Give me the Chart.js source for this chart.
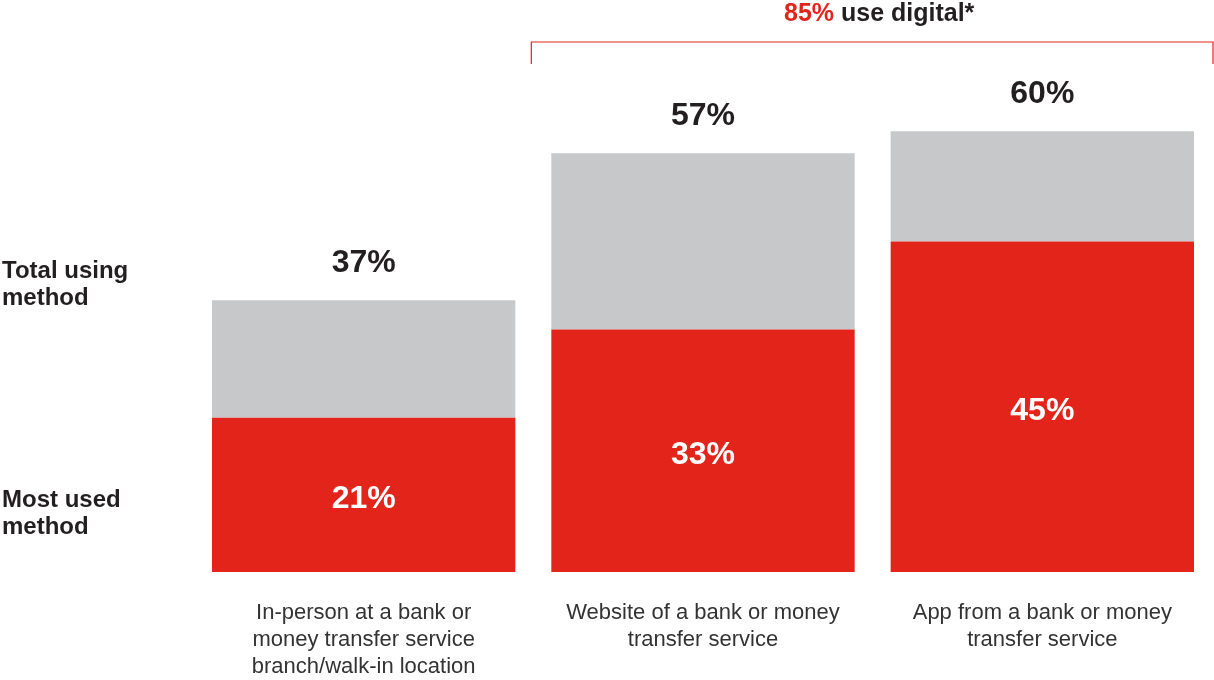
<!DOCTYPE html>
<html>
<head>
<meta charset="utf-8">
<script src="https://cdn.jsdelivr.net/npm/chart.js@4.4.1/dist/chart.umd.min.js"></script>
<style>
  html, body { margin: 0; padding: 0; background: #fff; }
  #wrap { width: 1214px; height: 680px; position: relative; }
</style>
</head>
<body>
<div id="wrap"><canvas id="methodChart"></canvas></div>
<script>
// Money transfer methods
const categories = [
    ['In-person at a bank or', 'money transfer service', 'branch/walk-in location'],
    ['Website of a bank or money', 'transfer service'],
    ['App from a bank or money', 'transfer service']
];
const mostUsed = [21, 33, 45];
const totalUsing = [37, 57, 60];
const digitalShare = 85;

const RED = '#e3241a';
const GREY = '#c7c8ca';
const FONT = '"Liberation Sans", Arial, Helvetica, sans-serif';

// grey segment is the remainder on top of the "most used" share
const remainder = totalUsing.map((t, i) => t - mostUsed[i]);

const labelsPlugin = {
    id: 'labelsPlugin',
    afterDatasetsDraw(chart) {
        const ctx = chart.ctx;
        const x = chart.scales.x;
        const y = chart.scales.y;
        const redBars = chart.getDatasetMeta(0).data;
        ctx.save();
        ctx.textAlign = 'center';
        ctx.textBaseline = 'middle';

        // values inside red segments
        ctx.font = 'bold 32px ' + FONT;
        ctx.fillStyle = '#fff';
        mostUsed.forEach((v, i) => {
            const cy = (y.getPixelForValue(0) + y.getPixelForValue(v)) / 2 + 4;
            ctx.fillText(v + '%', x.getPixelForValue(i), cy);
        });

        // totals above bars
        ctx.fillStyle = '#231f20';
        totalUsing.forEach((v, i) => {
            ctx.fillText(v + '%', x.getPixelForValue(i), y.getPixelForValue(v) - 37);
        });

        // category names under bars
        ctx.font = '22px ' + FONT;
        ctx.fillStyle = '#333';
        categories.forEach((lines, i) => {
            lines.forEach((line, j) => {
                ctx.fillText(line, x.getPixelForValue(i), y.getPixelForValue(0) + 41 + j * 27);
            });
        });

        // row captions on the left
        ctx.textAlign = 'left';
        ctx.font = 'bold 24px ' + FONT;
        ctx.fillStyle = '#231f20';
        ['Total using', 'method'].forEach((t, j) => ctx.fillText(t, 2, 271 + j * 27));
        ['Most used', 'method'].forEach((t, j) => ctx.fillText(t, 2, 500 + j * 27));

        // bracket over the two digital methods
        const bx1 = redBars[1].x - redBars[1].width / 2 - 20;
        const bx2 = redBars[2].x + redBars[2].width / 2 + 19;
        ctx.strokeStyle = RED;
        ctx.lineWidth = 1.2;
        ctx.beginPath();
        ctx.moveTo(bx1, 64);
        ctx.lineTo(bx1, 42);
        ctx.lineTo(bx2, 42);
        ctx.lineTo(bx2, 64);
        ctx.stroke();

        ctx.font = 'bold 25px ' + FONT;
        const part1 = digitalShare + '%';
        const part2 = ' use digital*';
        const w1 = ctx.measureText(part1).width;
        const w2 = ctx.measureText(part2).width;
        const tx = (bx1 + bx2) / 2 + 7 - (w1 + w2) / 2;
        ctx.fillStyle = RED;
        ctx.fillText(part1, tx, 14);
        ctx.fillStyle = '#231f20';
        ctx.fillText(part2, tx + w1, 14);
        ctx.restore();
    }
};

const ctx = document.getElementById('methodChart').getContext('2d');
const methodChart = new Chart(ctx, {
    type: 'bar',
    data: {
        labels: categories.map(c => c.join(' ')),
        datasets: [{
            label: 'Most used method',
            data: mostUsed,
            backgroundColor: RED
        }, {
            label: 'Total using method',
            data: remainder,
            backgroundColor: GREY
        }]
    },
    options: {
        responsive: true,
        maintainAspectRatio: false,
        animation: false,
        layout: { padding: { left: 194, right: 2, top: 21, bottom: 108 } },
        datasets: { bar: { categoryPercentage: 1, barPercentage: 0.894, borderWidth: 0 } },
        scales: {
            x: { stacked: true, display: false },
            y: { stacked: true, display: false, min: 0, max: 75 }
        },
        plugins: {
            legend: { display: false },
            tooltip: { enabled: false }
        }
    },
    plugins: [labelsPlugin]
});
</script>
</body>
</html>
